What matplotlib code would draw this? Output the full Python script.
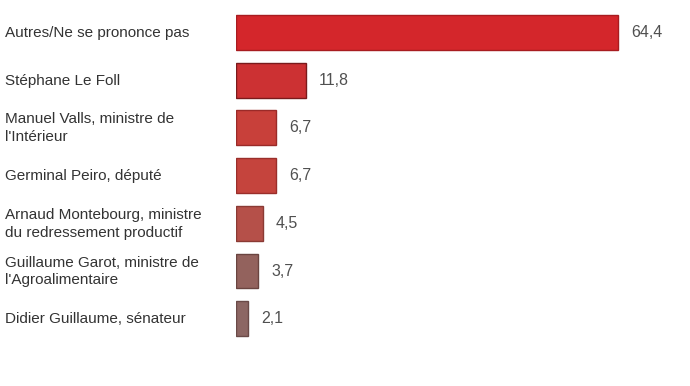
import matplotlib
matplotlib.use("Agg")
import matplotlib.pyplot as plt

labels = ["Autres/Ne se prononce pas", "Stéphane Le Foll",
          "Manuel Valls, ministre de\nl'Intérieur", "Germinal Peiro, député",
          "Arnaud Montebourg, ministre\ndu redressement productif",
          "Guillaume Garot, ministre de\nl'Agroalimentaire",
          "Didier Guillaume, sénateur"]
values = [64.4, 11.8, 6.7, 6.7, 4.5, 3.7, 2.1]
colors = ["#d4262b", "#cc3133", "#c8403a", "#c5443d", "#b55049", "#93625d", "#8c6663"]
edges = ["#a81c20", "#7a1a1c", "#9a2a28", "#9a2e2a", "#8a3a34", "#6a4440", "#6a4a48"]

plt.rcParams['font.family'] = ['Liberation Sans', 'DejaVu Sans']

fig = plt.figure(figsize=(6.9, 3.86), dpi=100)
ax = fig.add_axes([236 / 690, 0, 454 / 690, 1])

ypos = list(range(len(values)))
ax.barh(ypos, values, height=0.73, color=colors, edgecolor=edges, linewidth=1)
for y, v in zip(ypos, values):
    ax.text(v + 2.2, y, f"{v:.1f}".replace(".", ","), va="center", ha="left",
            fontsize=11.5, color="#505050")
for y, lab in zip(ypos, labels):
    fig.text(5 / 690, 1 - (33 + 47.7 * y) / 386, lab, va="center", ha="left",
             fontsize=11, color="#333333", linespacing=1.35)

ax.set_xlim(0, 76.5)
ax.set_ylim(7.41, -0.681)
ax.axis("off")

fig.savefig("out.png", dpi=100)
